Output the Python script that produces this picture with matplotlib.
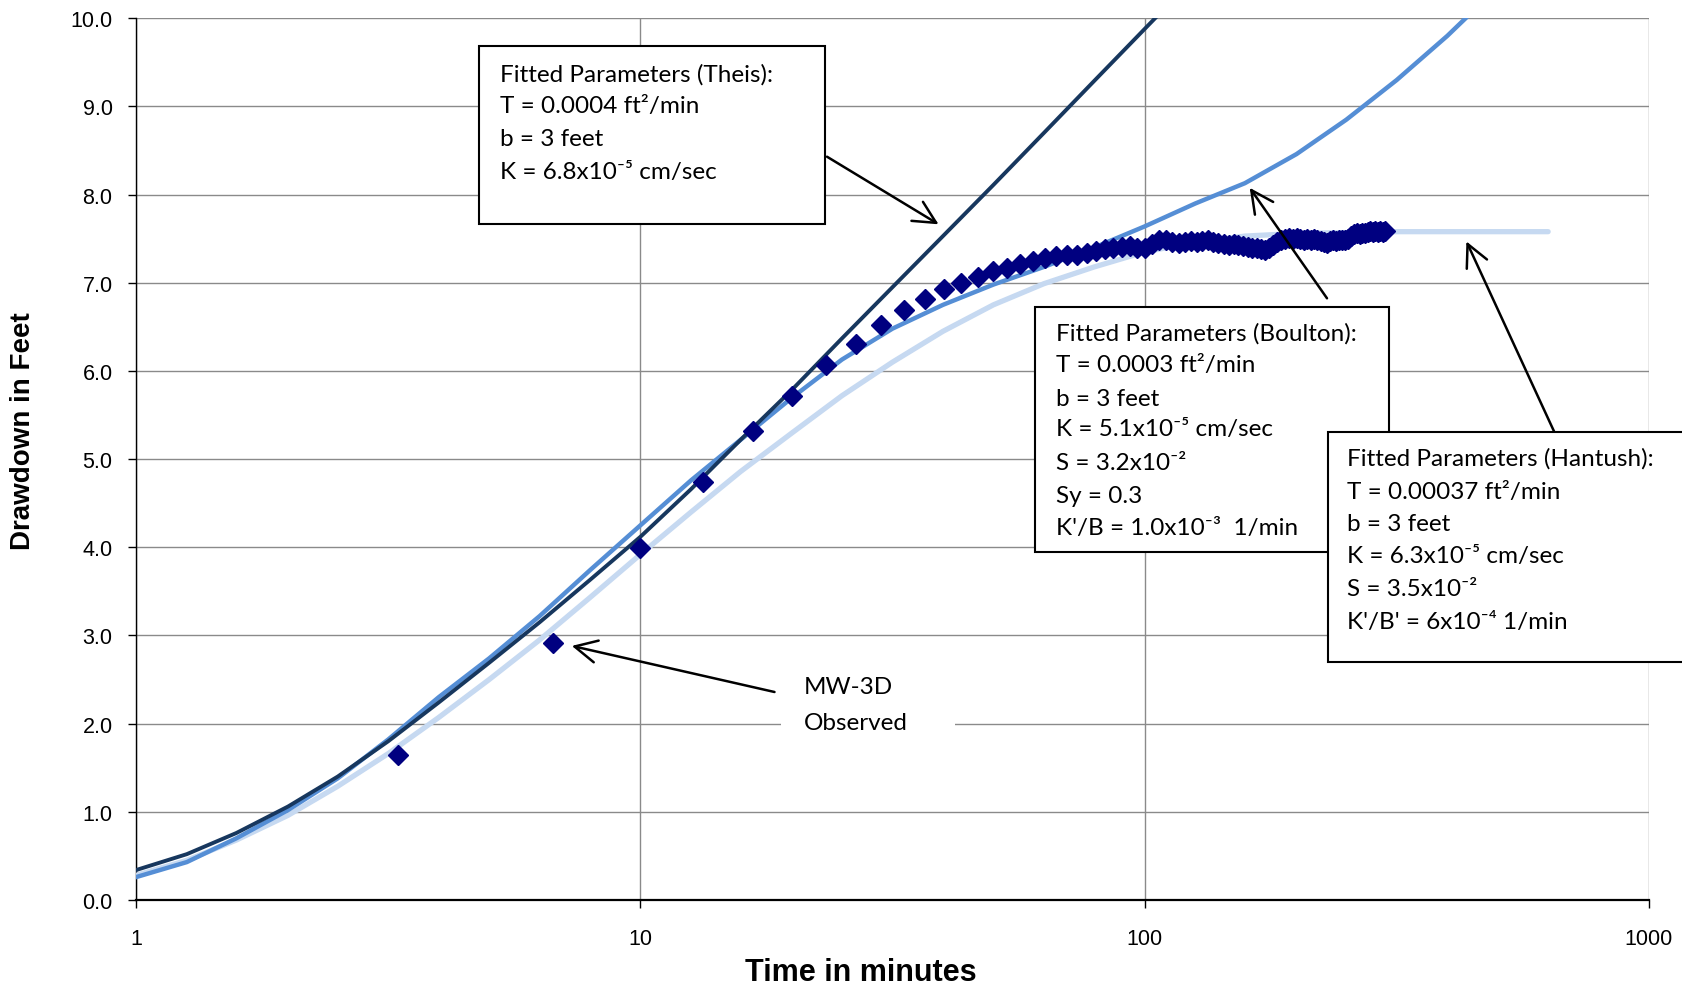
import matplotlib
matplotlib.use('Agg')
import matplotlib.pyplot as plt
from matplotlib.patches import Rectangle, FancyArrowPatch

# observed drawdown, MW-3D (minutes, feet)
obs_time = [3.3, 6.7, 10.0, 13.3, 16.7, 20.0, 23.3, 26.7, 30.0, 33.3,
            36.7, 40.0, 43.3, 46.7, 50.0, 53.3, 56.7, 60.0, 63.3, 66.7,
            70.0, 73.3, 76.7, 80.0, 83.3, 86.7, 90.0, 93.3, 96.7, 100.0,
            103.3, 106.7, 110.0, 113.3, 116.7, 120.0, 123.3, 126.7, 130.0, 133.3,
            136.7, 140.0, 143.3, 146.7, 150.0, 153.3, 156.7, 160.0, 163.3, 166.7,
            170.0, 173.3, 176.7, 180.0, 183.3, 186.7, 190.0, 193.3, 196.7, 200.0,
            203.3, 206.7, 210.0, 213.3, 216.7, 220.0, 223.3, 226.7, 230.0, 233.3,
            236.7, 240.0, 243.3, 246.7, 250.0, 253.3, 256.7, 260.0, 263.3, 266.7,
            270.0, 273.3, 276.7, 280.0, 283.3, 286.7, 290.0, 293.3, 296.7, 300.0]
obs_drawdown = [1.65, 2.92, 3.99, 4.74, 5.32, 5.72, 6.07, 6.31, 6.52, 6.69,
                6.82, 6.93, 7.00, 7.07, 7.13, 7.17, 7.21, 7.25, 7.28, 7.30,
                7.31, 7.32, 7.34, 7.36, 7.38, 7.40, 7.41, 7.42, 7.40, 7.39,
                7.44, 7.49, 7.48, 7.46, 7.45, 7.46, 7.47, 7.46, 7.47, 7.48,
                7.46, 7.45, 7.44, 7.43, 7.44, 7.43, 7.42, 7.41, 7.40, 7.39,
                7.38, 7.37, 7.40, 7.43, 7.46, 7.49, 7.50, 7.51, 7.50, 7.51,
                7.50, 7.49, 7.50, 7.49, 7.50, 7.48, 7.47, 7.46, 7.45, 7.47,
                7.48, 7.47, 7.48, 7.49, 7.48, 7.50, 7.53, 7.55, 7.56, 7.55,
                7.56, 7.57, 7.58, 7.59, 7.58, 7.59, 7.58, 7.59, 7.58, 7.59]

# fitted type curves
curve_time = [1.0, 1.26, 1.58, 2.0, 2.51, 3.16, 3.98, 5.01, 6.31, 7.94,
              10.0, 12.6, 15.8, 20.0, 25.1, 31.6, 39.8, 50.1, 63.1, 79.4,
              100.0, 126.0, 158.0, 200.0, 251.0, 316.0, 398.0, 501.0, 631.0]
theis_drawdown = [0.34, 0.52, 0.76, 1.06, 1.40, 1.80, 2.24, 2.69, 3.15, 3.63,
                  4.12, 4.66, 5.22, 5.79, 6.37, 6.95, 7.53, 8.11, 8.70, 9.29,
                  9.88, 10.47]
boulton_drawdown = [0.26, 0.43, 0.70, 1.02, 1.38, 1.82, 2.30, 2.74, 3.22, 3.74,
                    4.25, 4.76, 5.22, 5.70, 6.13, 6.48, 6.75, 6.98, 7.18, 7.40,
                    7.64, 7.90, 8.13, 8.46, 8.85, 9.30, 9.80, 10.35]
hantush_drawdown = [0.28, 0.45, 0.68, 0.96, 1.29, 1.66, 2.07, 2.50, 2.95, 3.43,
                    3.92, 4.40, 4.86, 5.30, 5.72, 6.10, 6.45, 6.75, 6.99, 7.18,
                    7.35, 7.46, 7.53, 7.56, 7.57, 7.58, 7.58, 7.58, 7.58]

x_ticks = [1, 10, 100, 1000]
x_tick_labels = ['1', '10', '100', '1000']
y_ticks = [0.0, 1.0, 2.0, 3.0, 4.0, 5.0, 6.0, 7.0, 8.0, 9.0, 10.0]

theis_text = ['Fitted Parameters (Theis):',
              'T = 0.0004 ft\u00b2/min',
              'b = 3 feet',
              'K = 6.8x10\u207b\u2075 cm/sec']
boulton_text = ['Fitted Parameters (Boulton):',
                'T = 0.0003 ft\u00b2/min',
                'b = 3 feet',
                'K = 5.1x10\u207b\u2075 cm/sec',
                'S = 3.2x10\u207b\u00b2',
                'Sy = 0.3',
                "K'/B = 1.0x10\u207b\u00b3  1/min"]
hantush_text = ['Fitted Parameters (Hantush):',
                'T = 0.00037 ft\u00b2/min',
                'b = 3 feet',
                'K = 6.3x10\u207b\u2075 cm/sec',
                'S = 3.5x10\u207b\u00b2',
                "K'/B' = 6x10\u207b\u2074 1/min"]
obs_text = ['MW-3D', 'Observed']

W, H = 1682, 987
NOTE_FONT = ['Lato', 'DejaVu Sans']
NOTE_SIZE = 17.5


def fp(x, y):
    # pixel position (top-left origin) -> figure fraction
    return x / W, 1 - y / H


fig = plt.figure(figsize=(W / 100, H / 100), dpi=100)
ax = fig.add_axes([136.2 / W, 1 - 901 / H, (1649 - 136.2) / W, (901 - 19.3) / H])

ax.plot(curve_time[:len(hantush_drawdown)], hantush_drawdown, color='#C6D9F1',
        lw=3.8, solid_capstyle='round', zorder=3)
ax.plot(curve_time[:len(boulton_drawdown)], boulton_drawdown, color='#558ED5',
        lw=3.2, zorder=4)
ax.plot(curve_time[:len(theis_drawdown)], theis_drawdown, color='#17375E',
        lw=2.8, zorder=5)
ax.plot(obs_time, obs_drawdown, ls='none', marker='D', ms=10,
        color='#000080', mec='#000080', zorder=6)

ax.set_xscale('log')
ax.set_xlim(1, 1000)
ax.set_ylim(0, 10)
ax.set_xticks(x_ticks)
ax.set_xticklabels(x_tick_labels)
ax.xaxis.set_minor_locator(matplotlib.ticker.NullLocator())
ax.set_yticks(y_ticks)
ax.set_yticklabels(['%.1f' % v for v in y_ticks])

ax.grid(True, which='major', color='#8a8a8a', lw=1.0)
ax.set_axisbelow(True)
for side in ['top', 'right']:
    ax.spines[side].set_visible(False)
ax.spines['left'].set_linewidth(1.0)
ax.spines['bottom'].set_linewidth(1.6)
ax.tick_params(axis='y', direction='out', length=6, width=1, pad=11,
               labelsize=15.5, labelfontfamily='Liberation Sans')
ax.tick_params(axis='x', direction='out', length=6, width=1, pad=14,
               labelsize=15.5, labelfontfamily='Liberation Sans')

ax.set_xlabel('Time in minutes', fontsize=22, fontweight='bold',
              family='Liberation Sans')
ax.xaxis.set_label_coords((861 - 136.2) / (1649 - 136.2), (901 - 973) / 881.7)
ax.xaxis.label.set_va('center')
ax.set_ylabel('Drawdown in Feet', fontsize=20, fontweight='bold',
              family='Liberation Sans')
ax.yaxis.set_label_coords((23 - 136.2) / (1649 - 136.2), (901 - 431) / 881.7)
ax.yaxis.label.set_va('center')


def note_box(x0, y0, x1, y1, text_x, line_ys, lines):
    l, b = fp(x0, y1)
    r, t = fp(x1, y0)
    fig.add_artist(Rectangle((l, b), r - l, t - b, transform=fig.transFigure,
                             facecolor='white', edgecolor='black', lw=1.5,
                             zorder=8, clip_on=False))
    for y, s in zip(line_ys, lines):
        fig.text(*fp(text_x, y), s, fontsize=NOTE_SIZE, family=NOTE_FONT,
                 va='center', ha='left', zorder=9)


def note_arrow(x0, y0, x1, y1):
    fig.add_artist(FancyArrowPatch(fp(x0, y0), fp(x1, y1),
                                   transform=fig.transFigure,
                                   arrowstyle='->,head_length=0.8,head_width=0.4',
                                   mutation_scale=20, lw=1.8, color='black',
                                   shrinkA=0, shrinkB=0, zorder=10))


note_box(479.5, 47.2, 825, 225.3, 500, [75, 107, 139.5, 172.7], theis_text)
note_box(1035, 308, 1389, 552.5, 1055.5,
         [333.6, 365.8, 399, 430, 463.4, 496.7, 528.9], boulton_text)
note_box(1328, 433.4, 1690, 663, 1347,
         [459, 492.4, 524.6, 556.8, 589, 622.2], hantush_text)

# label for the observed points: white patch over the gridline, no border
l, b = fp(781, 750)
r, t = fp(955, 660)
fig.add_artist(Rectangle((l, b), r - l, t - b, transform=fig.transFigure,
                         facecolor='white', edgecolor='none', zorder=8))
for y, s in zip([687.6, 724], obs_text):
    fig.text(*fp(803.5, y), s, fontsize=NOTE_SIZE, family=NOTE_FONT,
             va='center', ha='left', zorder=9)

note_arrow(827, 157.7, 938.6, 225.3)
note_arrow(1327, 299.3, 1249.7, 188.8)
note_arrow(1554, 432.3, 1466.4, 242.4)
note_arrow(774.5, 693, 571.8, 646.9)

fig.savefig('out.png', dpi=100)
